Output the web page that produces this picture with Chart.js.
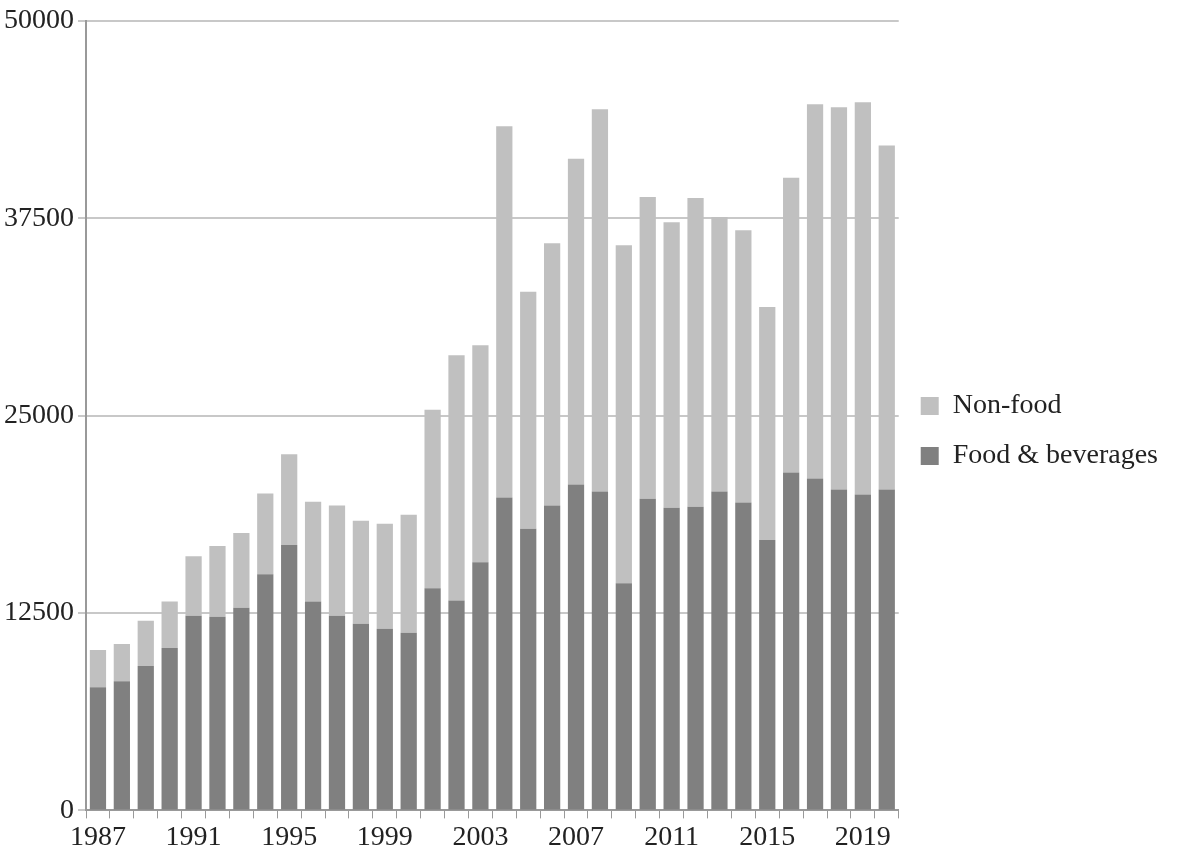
<!DOCTYPE html>
<html><head><meta charset="utf-8">
<script src="https://cdn.jsdelivr.net/npm/chart.js@4"></script>
<style>html,body{margin:0;padding:0;background:#fff}#w{width:1196px;height:858px}</style>
</head><body><div id="w"><canvas id="c"></canvas></div>
<script>
const years = [];
for (let y = 1987; y <= 2020; y++) years.push(String(y));
const foodBeverages = [7800,8180,9140,10290,12330,12270,12840,14950,16800,13230,12330,11820,11500,11250,14060,13290,15720,19810,17830,19300,20640,20190,14380,19740,19170,19230,20190,19490,17120,21400,21020,20320,20000,20320];
const totals = [10160,10540,12010,13230,16100,16740,17570,20060,22550,19550,19300,18340,18150,18720,25370,28820,29450,43320,32840,35910,41270,44400,35780,38850,37250,38780,37570,36740,31880,40060,44720,44530,44850,42100];
const nonFood = totals.map((t,i)=>t-foodBeverages[i]);
const yTicks = [0,12500,25000,37500,50000];
const font = {family:'"Liberation Serif","DejaVu Serif",serif', size:28};
new Chart(document.getElementById('c'), {
  type:'bar',
  data:{labels:years, datasets:[
    {label:'Food & beverages', data:foodBeverages, backgroundColor:'#808080', barPercentage:0.68, categoryPercentage:1},
    {label:'Non-food', data:nonFood, backgroundColor:'#c0c0c0', barPercentage:0.68, categoryPercentage:1}
  ]},
  options:{
    responsive:true, maintainAspectRatio:false, animation:false,
    layout:{padding:{top:6,right:28,bottom:2,left:0}},
    plugins:{legend:{position:'right', reverse:true,
      labels:{font:font, color:'#222', boxWidth:18, boxHeight:18, padding:22}},
      tooltip:{enabled:false}},
    scales:{
      x:{stacked:true, grid:{display:true, drawOnChartArea:false, offset:true, color:'#999', tickLength:8},
         border:{color:'#999', width:2},
         ticks:{font:font, color:'#222', autoSkip:false, maxRotation:0, padding:2,
           callback:function(v,i){return i%4===0?years[i]:'';}}},
      y:{stacked:true, min:0, max:50000, afterBuildTicks:a=>{a.ticks=yTicks.map(v=>({value:v}));},
         grid:{color:'#c8c8c8', lineWidth:2, tickLength:8},
         border:{color:'#999', width:2},
         ticks:{font:font, color:'#222', padding:4, callback:v=>String(v)}}
    }
  },
  plugins:[{id:'legendWidth', beforeInit(chart){
    const lg = chart.legend;
  }}]
});
</script></body></html>
